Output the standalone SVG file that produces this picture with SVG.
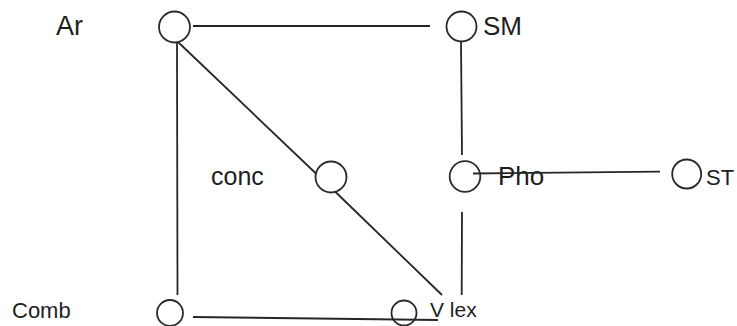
<svg xmlns="http://www.w3.org/2000/svg" width="737" height="326" viewBox="0 0 737 326">
<style>
.ln{stroke:#262626;stroke-width:1.8;fill:none}
.nd{fill:#fff;stroke:#2a2a2a;stroke-width:1.8}
.t{font-family:"Liberation Sans",Arial,sans-serif;fill:#1e1e1e}
</style>
<rect width="737" height="326" fill="#fff"/>
<g id="node-ar"><circle class="nd" cx="174.5" cy="27" r="15.5"/><text class="t" x="56" y="35" font-size="27">Ar</text></g>
<g id="node-sm"><circle class="nd" cx="461.5" cy="26.5" r="15"/><text class="t" x="483" y="35" font-size="26">SM</text></g>
<g id="node-conc"><circle class="nd" cx="331" cy="177" r="15.5"/><text class="t" x="211" y="185" font-size="25">conc</text></g>
<g id="node-pho"><circle class="nd" cx="465" cy="176.5" r="15.3"/><text class="t" x="498" y="185" font-size="26">Pho</text></g>
<g id="node-st"><circle class="nd" cx="686.7" cy="174" r="14.5"/><text class="t" x="706" y="185" font-size="22">ST</text></g>
<g id="node-comb"><circle class="nd" cx="170" cy="313" r="13"/><text class="t" x="12" y="318" font-size="22">Comb</text></g>
<g id="node-vlex"><circle class="nd" cx="404" cy="313" r="12.5"/><text class="t" x="430" y="317" font-size="21">V lex</text></g>
<g id="connectors">
<line class="ln" x1="193" y1="26" x2="430" y2="26"/>
<line class="ln" x1="177" y1="43" x2="177.5" y2="295"/>
<line class="ln" x1="178" y1="42" x2="316.5" y2="174"/>
<line class="ln" x1="335" y1="191.5" x2="442" y2="295"/>
<line class="ln" x1="461" y1="42" x2="462" y2="155"/>
<line class="ln" x1="462" y1="212" x2="461.7" y2="295"/>
<line class="ln" x1="473" y1="173.5" x2="660" y2="171.7"/>
<line class="ln" x1="193" y1="317" x2="438" y2="320"/>
</g>
</svg>
